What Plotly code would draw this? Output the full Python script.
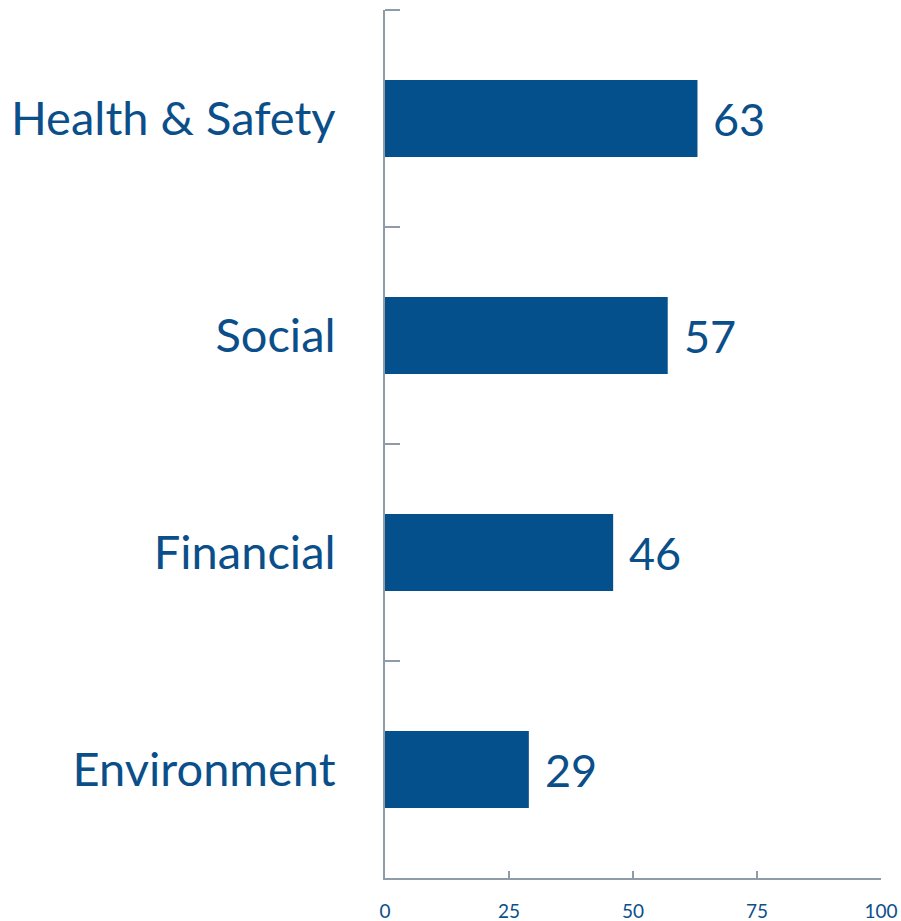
import plotly.graph_objects as go

categories = ["Environment", "Financial", "Social", "Health & Safety"]
values = [29, 46, 57, 63]
x_ticks = [0, 25, 50, 75, 100]

BLUE = "#03508C"
TEXT = "#0B4F8A"
AXIS = "#8E9BA8"
FONT = "Lato, Open Sans, sans-serif"

fig = go.Figure()
fig.add_trace(go.Bar(
    y=categories, x=values, orientation="h",
    marker=dict(color=BLUE, line=dict(width=0)),
    width=0.355,
    hoverinfo="skip",
))

for c, v in zip(categories, values):
    fig.add_annotation(x=v, y=c, text=str(v), showarrow=False,
                       xanchor="left", yanchor="middle", xshift=14,
                       font=dict(family=FONT, size=45, color=TEXT))

# top boundary tick of the category axis (plotly omits the outer boundary)
fig.add_shape(type="line", xref="x", yref="paper", xsizemode="pixel", xanchor=0,
              x0=0, x1=15, y0=1, y1=1, line=dict(color=AXIS, width=2))

fig.update_layout(
    width=901, height=921,
    margin=dict(l=385, r=20, t=10, b=43, autoexpand=False),
    paper_bgcolor="white", plot_bgcolor="white",
    showlegend=False,
    bargap=0.645,
    font=dict(family=FONT, color=TEXT),
)
fig.update_xaxes(
    range=[0, 100], tickvals=x_ticks, ticktext=[str(t) for t in x_ticks],
    showgrid=False, zeroline=False, showline=True, linecolor=AXIS, linewidth=2,
    ticks="inside", ticklen=7, tickwidth=2, tickcolor=AXIS, automargin=False,
    tickfont=dict(family=FONT, size=19, color=TEXT), ticklabelstandoff=15,
)
fig.update_yaxes(
    categoryorder="array", categoryarray=categories,
    showgrid=False, zeroline=False, showline=True, linecolor=AXIS, linewidth=2,
    ticks="inside", ticklen=15, tickwidth=2, tickcolor=AXIS, tickson="boundaries",
    automargin=False,
    tickfont=dict(family=FONT, size=47, color=TEXT), ticklabelstandoff=38,
)

fig.write_html(
    "out.html",
    config={"displayModeBar": False},
    post_script="document.body.style.margin='0';document.body.style.overflow='hidden';",
)
